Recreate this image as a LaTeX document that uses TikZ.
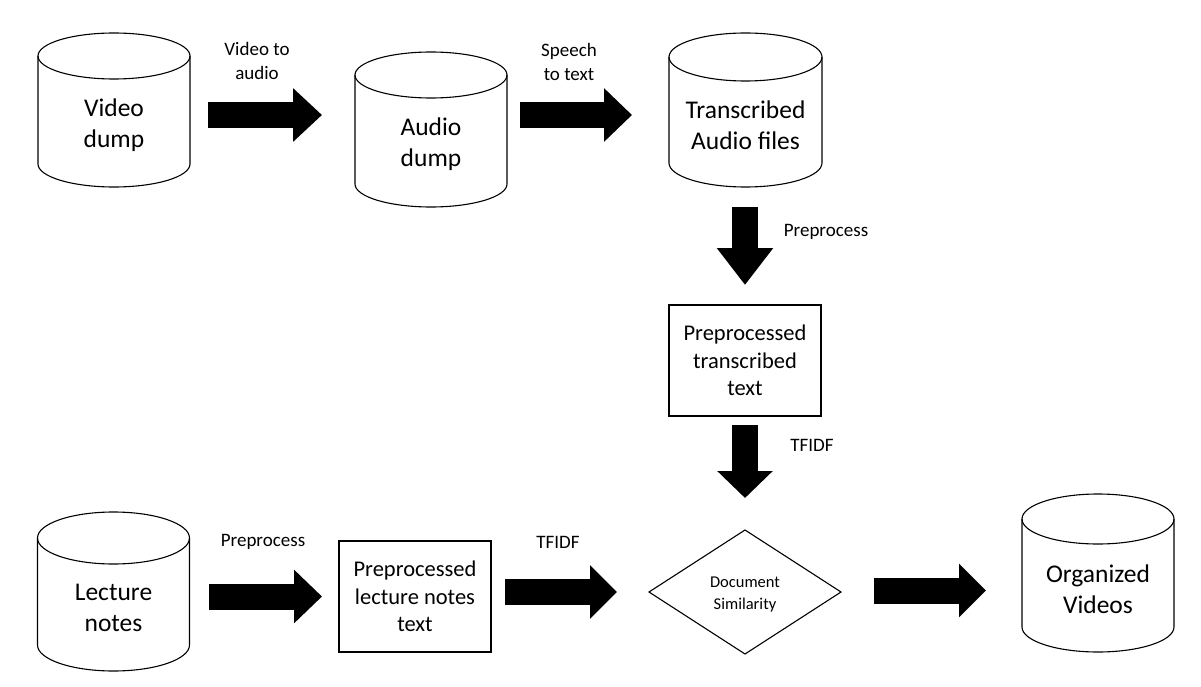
\documentclass[tikz,border=0pt]{standalone}
\usepackage{fontspec}
\setmainfont{Carlito}
\usetikzlibrary{arrows.meta}
\tikzset{
  outl/.style={draw=black,line width=1.1pt},
  bigtxt/.style={align=center,inner sep=0pt,font=\fontsize{25.5}{31}\selectfont},
  boxtxt/.style={align=center,inner sep=0pt,font=\fontsize{22.5}{27.5}\selectfont},
  lbl/.style={align=center,inner sep=0pt,font=\fontsize{19}{24}\selectfont},
  smalltxt/.style={align=center,inner sep=0pt,font=\fontsize{16.5}{22}\selectfont},
  procbox/.style={outl,rectangle,minimum width=152pt,minimum height=111pt,align=center,inner sep=0pt,font=\fontsize{22.5}{27.5}\selectfont},
  blockarrow/.style={line width=26pt,draw=black,-{Triangle[width=52pt,length=#1]}},
  blockarrow/.default=28pt
}
\newcommand{\dbcyl}[7]{%
  \draw[outl] ({#2-#5},{-(#3+#6)}) -- ({#2-#5},{-(#4-#6)})
     arc[start angle=180,end angle=360,x radius=#5,y radius=#6] -- ({#2+#5},{-(#3+#6)});
  \draw[outl] (#2,{-(#3+#6)}) ellipse[x radius=#5,y radius=#6];
  \node[bigtxt] (#1) at (#2,{-((#3+#6+#4)/2)-3.5}) {#7};
}
\begin{document}
\begin{tikzpicture}[x=1pt,y=1pt]
\useasboundingbox[fill=white] (0,0) rectangle (1201,-687);

% cylinders
\dbcyl{video}{114}{33}{187}{76}{23}{Video\\dump}
\dbcyl{audio}{431}{52}{207}{76}{23}{Audio\\dump}
\dbcyl{trans}{745.5}{33}{187}{76.5}{24}{Transcribed\\Audio files}
\dbcyl{lecture}{113.5}{512}{671}{76}{26}{Lecture\\notes}
\dbcyl{organized}{1098}{494}{652}{76}{25}{Organized\\Videos}

% boxes
\node[procbox] (pptrans) at (745,-360.5) {Preprocessed\\transcribed\\text};
\node[procbox] (pplect) at (415,-596.5) {Preprocessed\\lecture notes\\text};

% diamond
\node[smalltxt] (sim) at (745,-594.5) {Document\\Similarity};
\coordinate (dN) at (745,-530);
\coordinate (dE) at (841,-592);
\coordinate (dS) at (745,-654);
\coordinate (dW) at (649,-592);
\draw[outl,line join=miter] (dN) -- (dE) -- (dS) -- (dW) -- cycle;

% arrow coordinates
\coordinate (a1s) at (208,-115);   \coordinate (a1e) at (322,-115);
\coordinate (a2s) at (520,-115);   \coordinate (a2e) at (632,-115);
\coordinate (a3s) at (745,-207);   \coordinate (a3e) at (745,-285);
\coordinate (a4s) at (745,-425);   \coordinate (a4e) at (745,-498);
\coordinate (a5s) at (209,-596.5); \coordinate (a5e) at (322,-596.5);
\coordinate (a6s) at (505,-592);   \coordinate (a6e) at (617,-592);
\coordinate (a7s) at (874,-590.5); \coordinate (a7e) at (986,-590.5);

\draw[blockarrow=29pt] (a1s) -- (a1e);
\draw[blockarrow=28pt] (a2s) -- (a2e);
\draw[line width=26pt,-{Triangle[width=54pt,length=37pt]}] (a3s) -- (a3e);
\draw[line width=26pt,-{Triangle[width=54pt,length=27pt]}] (a4s) -- (a4e);
\draw[blockarrow=28pt] (a5s) -- (a5e);
\draw[blockarrow=27pt] (a6s) -- (a6e);
\draw[blockarrow=27pt] (a7s) -- (a7e);

% labels
\node[lbl] (l1) at (257,-61) {Video to\\audio};
\node[lbl] (l2) at (569,-62) {Speech\\to text};
\node[lbl] (l3) at (826,-232) {Preprocess};
\node[lbl] (l4) at (812,-445) {TFIDF};
\node[lbl] (l5) at (263,-542) {Preprocess};
\node[lbl] (l6) at (558,-542) {TFIDF};
\end{tikzpicture}
\end{document}
